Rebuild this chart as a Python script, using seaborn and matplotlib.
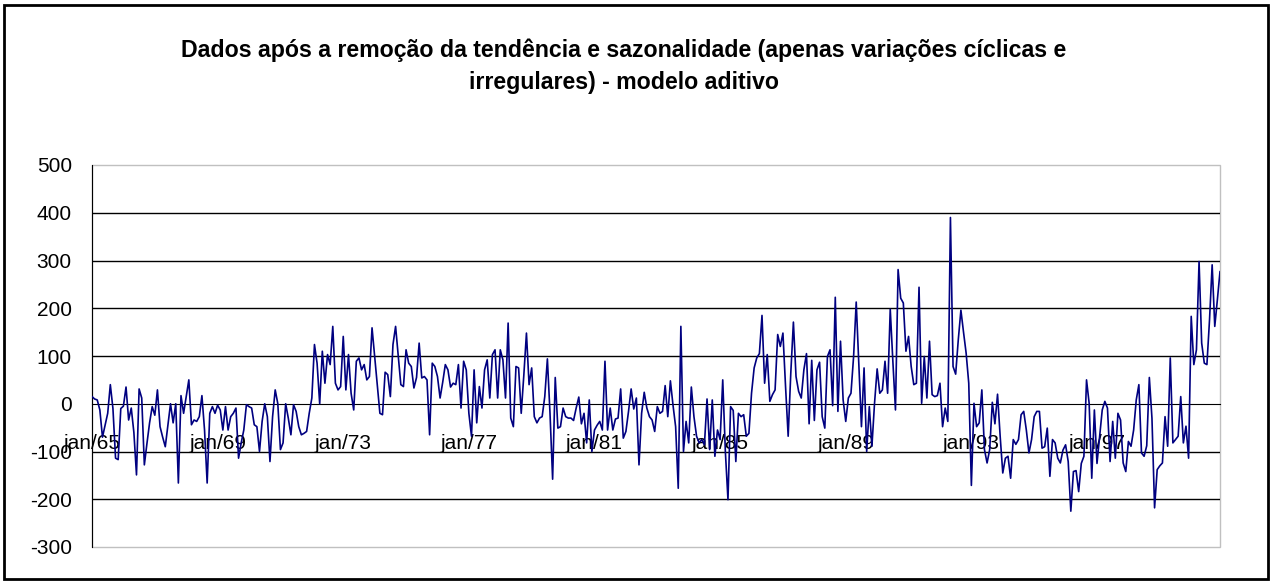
import numpy as np
import pandas as pd
import matplotlib
matplotlib.use('Agg')
import matplotlib.pyplot as plt
import seaborn as sns
from matplotlib.patches import Rectangle

# valores mensais (jan/65 - dez/00), um bloco por 4 anos
v_1965_68 = [15, 10, 8, -13, -70, -45, -20, 40, -10, -114, -117, -10,
             -5, 35, -34, -9, -60, -149, 31, 12, -128, -83, -40, -6,
             -24, 29, -48, -70, -90, -45, 0, -40, 0, -166, 17, -20,
             15, 50, -44, -34, -37, -27, 17, -55, -166, -20, -6, -20]
v_1969_72 = [-3, -13, -55, -6, -55, -27, -20, -9, -114, -82, -55, -2,
             -6, -9, -44, -48, -100, -37, 0, -27, -121, -27, 29, 0,
             -96, -82, 0, -30, -65, -2, -16, -48, -65, -62, -58, -20,
             12, 124, 85, 0, 110, 43, 103, 82, 162, 43, 29, 36]
v_1973_76 = [141, 29, 103, 22, -13, 89, 96, 71, 82, 50, 57, 159,
             99, 40, -20, -23, 66, 61, 15, 124, 162, 100, 40, 36,
             113, 85, 78, 33, 55, 127, 54, 57, 50, -65, 85, 78,
             57, 12, 45, 82, 71, 35, 43, 40, 82, -9, 89, 71]
v_1977_80 = [-20, -68, 71, -40, 36, -9, 71, 92, 12, 103, 113, 12,
             113, 92, 12, 169, -30, -48, 78, 75, -20, 60, 148, 40,
             75, -27, -40, -30, -27, 15, 94, -20, -158, 55, -51, -48,
             -9, -27, -30, -30, -35, -9, 14, -42, -20, -82, 8, -100]
v_1981_84 = [-55, -45, -37, -55, 89, -55, -9, -55, -32, -30, 31, -72,
             -58, -16, 31, -11, 12, -128, -20, 24, -9, -27, -34, -58,
             -6, -20, -16, 38, -27, 48, -3, -48, -177, 162, -100, -37,
             -82, 35, -27, -68, -82, -75, -86, 10, -96, 8, -110, -55]
v_1985_88 = [-75, 50, -100, -201, -6, -14, -121, -20, -27, -23, -68, -62,
             22, 75, 96, 105, 185, 43, 103, 5, 19, 29, 145, 120,
             148, 36, -68, 64, 171, 57, 26, 12, 71, 105, -42, 91,
             -35, 71, 87, -27, -51, 99, 113, -4, 223, -16, 131, 8]
v_1989_92 = [-37, 12, 22, 99, 213, 85, -48, 75, -100, -6, -89, 1,
             73, 22, 29, 89, 22, 198, 89, -13, 281, 221, 211, 110,
             141, 78, 40, 43, 244, 1, 99, 12, 131, 19, 15, 17,
             43, -48, -9, -37, 390, 78, 62, 134, 196, 150, 106, 43]
v_1993_96 = [-171, 1, -48, -40, 29, -96, -124, -96, 3, -42, 20, -68,
             -145, -114, -110, -156, -75, -85, -75, -23, -16, -55, -103, -75,
             -27, -16, -16, -93, -90, -51, -152, -75, -82, -114, -124, -97,
             -86, -121, -225, -142, -140, -184, -125, -110, 50, 1, -156, -13]
v_1997_00 = [-125, -68, -13, 5, -9, -121, -37, -114, -20, -34, -124, -142,
             -79, -89, -55, 8, 40, -103, -110, -88, 55, -30, -218, -138,
             -130, -124, -27, -89, 96, -82, -75, -68, 15, -82, -47, -114,
             183, 82, 113, 298, 127, 85, 82, 176, 291, 162, 218, 277]

rotulos_x = ['jan/65', 'jan/69', 'jan/73', 'jan/77', 'jan/81',
             'jan/85', 'jan/89', 'jan/93', 'jan/97']
ticks_y = [500, 400, 300, 200, 100, 0, -100, -200, -300]

valores = (v_1965_68 + v_1969_72 + v_1973_76 + v_1977_80 + v_1981_84
           + v_1985_88 + v_1989_92 + v_1993_96 + v_1997_00)
df = pd.DataFrame({'mes': np.arange(len(valores)), 'valor': valores})

sns.set_style('white')
plt.rcParams['font.family'] = ['Liberation Sans', 'DejaVu Sans']
plt.rcParams['axes.unicode_minus'] = False
plt.rcParams['text.color'] = 'black'

W, H = 1273, 583
fig = plt.figure(figsize=(W / 100, H / 100), dpi=100)
ax = fig.add_axes([92 / W, 1 - 547 / H, (1220 - 92) / W, (547 - 165) / H])

# eixo x cruzando no zero (antes de definir os ticks)
ax.spines['top'].set_visible(False)
ax.spines['right'].set_visible(False)
ax.spines['bottom'].set_position(('data', 0))
ax.spines['bottom'].set_color('black')
ax.spines['left'].set_color('black')
ax.spines['bottom'].set_zorder(2)

# linhas de grade pretas (exceto bordas)
for v in ticks_y:
    if v not in (ticks_y[0], ticks_y[-1], 0):
        ax.axhline(v, color='black', lw=1, zorder=1)

sns.lineplot(data=df, x='mes', y='valor', color='#000080', lw=1.2, ax=ax, zorder=3)

ax.set_xlim(0, len(valores) - 1)
ax.set_ylim(-300, 500)
ax.set_yticks(ticks_y)
ax.set_yticklabels([str(v) for v in ticks_y])
ax.set_xticks(list(range(0, 48 * len(rotulos_x), 48)) + [len(valores) - 1])
ax.set_xticklabels(rotulos_x + [''])
ax.set_xlabel('')
ax.set_ylabel('')

ax.tick_params(axis='y', direction='out', length=6.5, width=1, pad=8,
               colors='black', labelsize=15, labelcolor='black')
ax.tick_params(axis='x', direction='out', length=6.5, width=1, pad=15.5,
               colors='black', labelsize=15, labelcolor='black')

# borda cinza da area de plotagem
ax.add_patch(Rectangle((0, 0), 1, 1, transform=ax.transAxes, fill=False,
                       ec='#c0c0c0', lw=1, zorder=0, clip_on=False))

fig.text(0.49, 1 - 50 / H, 'Dados após a remoção da tendência e sazonalidade (apenas variações cíclicas e',
         ha='center', va='center', fontsize=16.7, fontweight='bold', color='black')
fig.text(0.49, 1 - 83 / H, 'irregulares) - modelo aditivo',
         ha='center', va='center', fontsize=16.7, fontweight='bold', color='black')

# borda do grafico
fig.patches.append(Rectangle((4 / W, 4 / H), 1 - 9 / W, 1 - 9 / H, transform=fig.transFigure,
                             fill=False, ec='black', lw=2))

fig.savefig('out.png', dpi=100)
